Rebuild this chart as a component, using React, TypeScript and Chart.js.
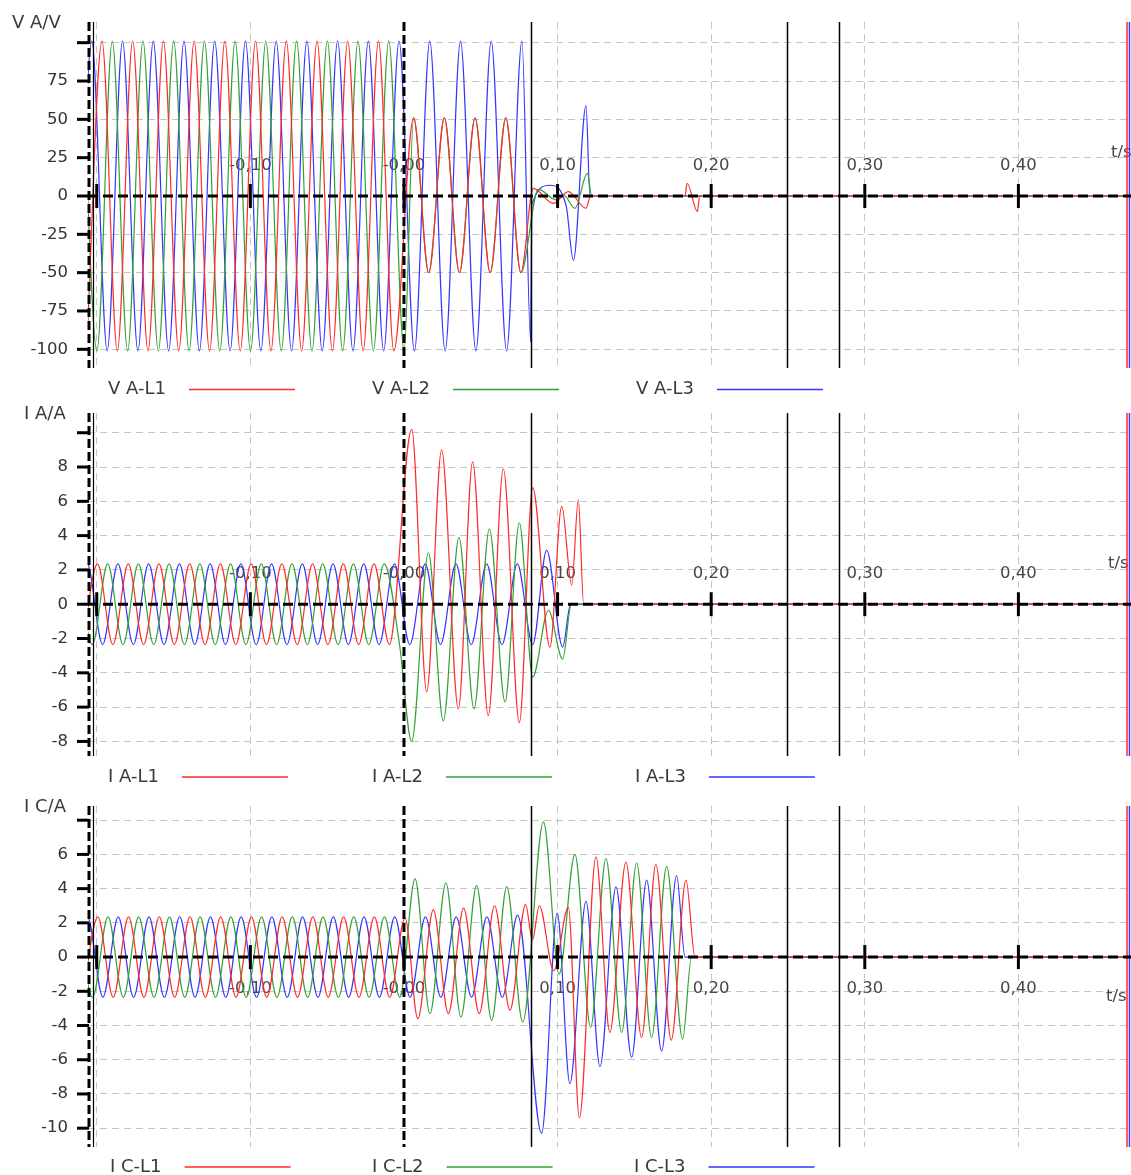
import React, { useEffect, useRef } from 'react';
import { Chart, registerables } from 'chart.js';

Chart.register(...registerables);

type Pt = [number, number];

const FONT = '"DejaVu Sans", "Liberation Sans", Arial, sans-serif';

// time axis in ms
const X_MIN = -205.7;
const X_MAX = 473.3;
const X_TICKS = [-200, -100, 0, 100, 200, 300, 400];
const X_TICK_LABELS = ['', '-0,10', '-0,00', '0,10', '0,20', '0,30', '0,40'];
const CURSOR_LINES = [82.7, 249.3, 283.2];
const LEFT_MARK = -202.5;
const END_MARKS = [470.7, 472.3];
const END_COLORS = ['#ff2a2a', '#3a3aff'];
const COLORS = ['#ff2a2a', '#33a033', '#3535ff'];

// ---------- V A ----------
const VA_TICKS = [-100, -75, -50, -25, 0, 25, 50, 75, 100];
const VA_TICK_LABELS = ['-100', '-75', '-50', '-25', '0', '25', '50', '75', ''];
const VA_NAMES = ['V A-L1', 'V A-L2', 'V A-L3'];
const VA_L1: Pt[] = [
  [-206.6, -101], [-196.6, 101], [-186.6, -101], [-176.6, 101], [-166.6, -101], [-156.6, 101],
  [-146.6, -101], [-136.6, 101], [-126.6, -101], [-116.6, 101], [-106.6, -101], [-96.6, 101],
  [-86.6, -101], [-76.6, 101], [-66.6, -101], [-56.6, 101], [-46.6, -101], [-36.6, 101],
  [-26.6, -101], [-16.6, 101], [-6.6, -101], [6.3, 51], [16.1, -50], [26.3, 51], [36.1, -50],
  [46.3, 51], [56.1, -50], [66.3, 51], [76.1, -50], [84.2, 5], [97.2, -4.8], [107, 2.8],
  [118.5, -8], [121.5, 0], [183, 0], [184.3, 8.3], [191, -10.2], [192.5, 0], [473.3, 0],
];
const VA_L2: Pt[] = [
  [-209.9, 101], [-199.9, -101], [-189.9, 101], [-179.9, -101], [-169.9, 101], [-159.9, -101],
  [-149.9, 101], [-139.9, -101], [-129.9, 101], [-119.9, -101], [-109.9, 101], [-99.9, -101],
  [-89.9, 101], [-79.9, -101], [-69.9, 101], [-59.9, -101], [-49.9, 101], [-39.9, -101],
  [-29.9, 101], [-19.9, -101], [-9.9, 101], [0.1, -101], [6.3, 51], [16.1, -50], [26.3, 51],
  [36.1, -50], [46.3, 51], [56.1, -50], [66.3, 51], [76.1, -50], [87.5, 4.3], [99.3, -2.6],
  [104, 0.5], [111.3, -8], [119.4, 14.8], [122.2, 0], [473.3, 0],
];
const VA_L3: Pt[] = [
  [-213.2, -101], [-203.2, 101], [-193.2, -101], [-183.2, 101], [-173.2, -101], [-163.2, 101],
  [-153.2, -101], [-143.2, 101], [-133.2, -101], [-123.2, 101], [-113.2, -101], [-103.2, 101],
  [-93.2, -101], [-83.2, 101], [-73.2, -101], [-63.2, 101], [-53.2, -101], [-43.2, 101],
  [-33.2, -101], [-23.2, 101], [-13.2, -101], [-3.2, 101], [6.8, -101], [16.8, 101],
  [26.8, -101], [36.8, 101], [46.8, -101], [56.8, 101], [66.8, -101], [76.8, 101],
  [82.5, -95], [83.2, -6], [95.1, 7], [105.5, -6], [110.3, -42], [118.5, 59], [121.1, 0],
  [473.3, 0],
];

// ---------- I A ----------
const IA_TICKS = [-8, -6, -4, -2, 0, 2, 4, 6, 8, 10];
const IA_TICK_LABELS = ['-8', '-6', '-4', '-2', '0', '2', '4', '6', '8', ''];
const IA_NAMES = ['I A-L1', 'I A-L2', 'I A-L3'];
const IA_L1: Pt[] = [
  [-209.5, -2.35], [-199.5, 2.35], [-189.5, -2.35], [-179.5, 2.35], [-169.5, -2.35],
  [-159.5, 2.35], [-149.5, -2.35], [-139.5, 2.35], [-129.5, -2.35], [-119.5, 2.35],
  [-109.5, -2.35], [-99.5, 2.35], [-89.5, -2.35], [-79.5, 2.35], [-69.5, -2.35],
  [-59.5, 2.35], [-49.5, -2.35], [-39.5, 2.35], [-29.5, -2.35], [-19.5, 2.35],
  [-9.5, -2.35], [5.0, 10.2], [14.8, -5.1], [24.5, 9.0], [35.4, -6.1], [44.7, 8.3],
  [54.9, -6.5], [64.7, 7.9], [75.1, -6.9], [83.8, 6.8], [95.0, -2.5], [102.7, 5.7],
  [109.2, 1.1], [113.5, 6.1], [117.0, 0], [473.3, 0],
];
const IA_L2: Pt[] = [
  [-212.9, 2.35], [-202.9, -2.35], [-192.9, 2.35], [-182.9, -2.35], [-172.9, 2.35],
  [-162.9, -2.35], [-152.9, 2.35], [-142.9, -2.35], [-132.9, 2.35], [-122.9, -2.35],
  [-112.9, 2.35], [-102.9, -2.35], [-92.9, 2.35], [-82.9, -2.35], [-72.9, 2.35],
  [-62.9, -2.35], [-52.9, 2.35], [-42.9, -2.35], [-32.9, 2.35], [-22.9, -2.35],
  [-12.9, 2.35], [-2.9, -2.35], [5.0, -8.0], [15.9, 3.0], [25.6, -6.8], [35.8, 3.9],
  [45.6, -6.1], [55.6, 4.4], [65.8, -5.7], [75.1, 4.75], [83.8, -4.25], [94.0, -0.35],
  [103.3, -3.2], [109.0, 0], [473.3, 0],
];
const IA_L3: Pt[] = [
  [-216.2, -2.35], [-206.2, 2.35], [-196.2, -2.35], [-186.2, 2.35], [-176.2, -2.35],
  [-166.2, 2.35], [-156.2, -2.35], [-146.2, 2.35], [-136.2, -2.35], [-126.2, 2.35],
  [-116.2, -2.35], [-106.2, 2.35], [-96.2, -2.35], [-86.2, 2.35], [-76.2, -2.35],
  [-66.2, 2.35], [-56.2, -2.35], [-46.2, 2.35], [-36.2, -2.35], [-26.2, 2.35],
  [-16.2, -2.35], [-6.2, 2.35], [3.8, -2.35], [13.8, 2.35], [23.8, -2.35], [33.8, 2.35],
  [43.8, -2.35], [53.8, 2.35], [63.8, -2.35], [73.8, 2.35], [83.8, -2.35], [92.9, 3.15],
  [103.3, -2.5], [108.5, 0], [473.3, 0],
];

// ---------- I C ----------
const IC_TICKS = [-10, -8, -6, -4, -2, 0, 2, 4, 6, 8];
const IC_TICK_LABELS = ['-10', '-8', '-6', '-4', '-2', '0', '2', '4', '6', ''];
const IC_NAMES = ['I C-L1', 'I C-L2', 'I C-L3'];
const IC_L1: Pt[] = [
  [-209.3, -2.35], [-199.3, 2.35], [-189.3, -2.35], [-179.3, 2.35], [-169.3, -2.35],
  [-159.3, 2.35], [-149.3, -2.35], [-139.3, 2.35], [-129.3, -2.35], [-119.3, 2.35],
  [-109.3, -2.35], [-99.3, 2.35], [-89.3, -2.35], [-79.3, 2.35], [-69.3, -2.35],
  [-59.3, 2.35], [-49.3, -2.35], [-39.3, 2.35], [-29.3, -2.35], [-19.3, 2.35],
  [-9.3, -2.35], [0.7, 2.3], [9.0, -3.6], [19.1, 2.76], [28.9, -3.3], [38.8, 2.86],
  [49.0, -3.3], [59.0, 3.0], [69.0, -3.1], [79.2, 3.06], [83.6, 1.0], [88.1, 3.0],
  [97.5, -0.8], [107.0, 2.9], [114.2, -9.4], [125.0, 5.86], [134.0, -4.4], [144.5, 5.55],
  [154.7, -4.7], [164.0, 5.4], [174.0, -4.85], [183.6, 4.5], [189.5, 0], [473.3, 0],
];
const IC_L2: Pt[] = [
  [-212.7, 2.35], [-202.7, -2.35], [-192.7, 2.35], [-182.7, -2.35], [-172.7, 2.35],
  [-162.7, -2.35], [-152.7, 2.35], [-142.7, -2.35], [-132.7, 2.35], [-122.7, -2.35],
  [-112.7, 2.35], [-102.7, -2.35], [-92.7, 2.35], [-82.7, -2.35], [-72.7, 2.35],
  [-62.7, -2.35], [-52.7, 2.35], [-42.7, -2.35], [-32.7, 2.35], [-22.7, -2.35],
  [-12.7, 2.35], [-2.7, -2.35], [7.2, 4.57], [16.9, -3.3], [27.3, 4.33], [37.1, -3.5],
  [47.3, 4.18], [57.1, -3.7], [66.9, 4.1], [77.3, -3.8], [90.8, 7.9], [101.0, -1.0],
  [111.3, 6.0], [121.5, -4.1], [131.5, 5.75], [141.7, -4.4], [151.5, 5.5], [161.2, -4.7],
  [171.0, 5.3], [181.4, -4.8], [187.2, 0], [473.3, 0],
];
const IC_L3: Pt[] = [
  [-216, -2.35], [-206, 2.35], [-196, -2.35], [-186, 2.35], [-176, -2.35], [-166, 2.35],
  [-156, -2.35], [-146, 2.35], [-136, -2.35], [-126, 2.35], [-116, -2.35], [-106, 2.35],
  [-96, -2.35], [-86, 2.35], [-76, -2.35], [-66, 2.35], [-56, -2.35], [-46, 2.35],
  [-36, -2.35], [-26, 2.35], [-16, -2.35], [-6, 2.35], [4, -2.35], [14, 2.35], [24, -2.35],
  [34, 2.35], [44, -2.35], [54, 2.35], [64, -2.35], [74, 2.45], [89.6, -10.3], [99.8, 2.57],
  [108.0, -7.4], [118.5, 3.25], [127.6, -6.4], [138.0, 4.1], [148.2, -5.86], [158.0, 4.5],
  [167.7, -5.5], [177.5, 4.76], [183.0, 0], [473.3, 0],
];

interface Panel {
  top: number;
  height: number;
  padTop: number;
  padBottom: number;
  yMin: number;
  yMax: number;
  yTicks: number[];
  yLabels: string[];
  title: string;
  titleX: number;
  titleY: number;
  names: string[];
  legendX: number[];
  legendY: number;
  series: Pt[][];
  labelOffset: number;
  tsX: number;
  tsOffset: number;
}

const PANELS: Panel[] = [
  {
    top: 0, height: 398, padTop: 22, padBottom: 30, yMin: -112.2, yMax: 113.5,
    yTicks: VA_TICKS, yLabels: VA_TICK_LABELS, title: 'V A/V', titleX: 12, titleY: 23,
    names: VA_NAMES, legendX: [108, 372, 636], legendY: 389.5, series: [VA_L1, VA_L2, VA_L3],
    labelOffset: -30.5, tsX: 1111, tsOffset: -43,
  },
  {
    top: 398, height: 392, padTop: 15, padBottom: 34, yMin: -8.85, yMax: 11.15,
    yTicks: IA_TICKS, yLabels: IA_TICK_LABELS, title: 'I A/A', titleX: 24, titleY: 16,
    names: IA_NAMES, legendX: [108, 372, 635], legendY: 379, series: [IA_L1, IA_L2, IA_L3],
    labelOffset: -30.5, tsX: 1108, tsOffset: -41,
  },
  {
    top: 790, height: 385, padTop: 16, padBottom: 28, yMin: -11.1, yMax: 8.83,
    yTicks: IC_TICKS, yLabels: IC_TICK_LABELS, title: 'I C/A', titleX: 24, titleY: 17,
    names: IC_NAMES, legendX: [110, 372, 634], legendY: 377, series: [IC_L1, IC_L2, IC_L3],
    labelOffset: 31.3, tsX: 1106, tsOffset: 40,
  },
];

function line(ctx: CanvasRenderingContext2D, x1: number, y1: number, x2: number, y2: number) {
  ctx.beginPath();
  ctx.moveTo(x1, y1);
  ctx.lineTo(x2, y2);
  ctx.stroke();
}

function makePlugin(p: Panel, idx: number) {
  return {
    id: 'overlay' + idx,
    beforeDatasetsDraw(chart: any) {
      const { ctx, scales, chartArea } = chart;
      const xs = scales.x;
      const ys = scales.y;
      const y0 = ys.getPixelForValue(0);
      ctx.save();
      ctx.font = `16.5px ${FONT}`;
      ctx.fillStyle = '#474747';
      ctx.textAlign = 'center';
      ctx.textBaseline = 'middle';
      X_TICKS.forEach((t, i) => {
        const lbl = X_TICK_LABELS[i];
        if (lbl) ctx.fillText(lbl, xs.getPixelForValue(t), y0 + p.labelOffset);
      });
      ctx.textAlign = 'left';
      ctx.fillText('t/s', p.tsX, y0 + p.tsOffset);
      // y tick labels
      ctx.fillStyle = '#333';
      ctx.textAlign = 'right';
      p.yTicks.forEach((v, i) => {
        const lbl = p.yLabels[i];
        if (lbl) ctx.fillText(lbl, chartArea.left - 20, ys.getPixelForValue(v));
      });
      ctx.restore();
    },
    afterDatasetsDraw(chart: any) {
      const { ctx, chartArea, scales } = chart;
      const xs = scales.x;
      const ys = scales.y;
      const y0 = ys.getPixelForValue(0);
      const { left, right, top, bottom } = chartArea;
      ctx.save();
      // solid cursors
      ctx.strokeStyle = '#000';
      ctx.lineWidth = 1.5;
      CURSOR_LINES.forEach((t) => {
        const x = Math.round(xs.getPixelForValue(t)) + 0.5;
        line(ctx, x, top, x, bottom);
      });
      ctx.lineWidth = 1.2;
      const xl = Math.round(xs.getPixelForValue(LEFT_MARK)) + 0.5;
      line(ctx, xl, top, xl, bottom);
      END_MARKS.forEach((t, i) => {
        ctx.strokeStyle = END_COLORS[i];
        ctx.lineWidth = 1.5;
        const x = xs.getPixelForValue(t);
        line(ctx, x, top, x, bottom);
      });
      // dashed black lines
      ctx.strokeStyle = '#000';
      ctx.lineWidth = 3;
      ctx.setLineDash([10, 5]);
      line(ctx, left, y0, right, y0);
      ctx.setLineDash([9, 4]);
      const xz = xs.getPixelForValue(0);
      line(ctx, xz, top, xz, bottom);
      line(ctx, left + 1, top, left + 1, bottom);
      ctx.setLineDash([]);
      // y tick marks
      p.yTicks.forEach((v) => {
        const y = ys.getPixelForValue(v);
        line(ctx, left - 11, y, left + 1, y);
      });
      // x tick marks on the zero line
      X_TICKS.forEach((t) => {
        const x = xs.getPixelForValue(t);
        line(ctx, x, y0 - 12, x, y0 + 12);
      });
      ctx.restore();
    },
    afterDraw(chart: any) {
      const { ctx } = chart;
      ctx.save();
      ctx.font = `18px ${FONT}`;
      ctx.fillStyle = '#3a3a3a';
      ctx.textAlign = 'left';
      ctx.textBaseline = 'middle';
      ctx.fillText(p.title, p.titleX, p.titleY);
      p.names.forEach((name, i) => {
        const x = p.legendX[i];
        ctx.fillStyle = '#3a3a3a';
        ctx.fillText(name, x, p.legendY);
        const w = ctx.measureText(name).width;
        ctx.strokeStyle = COLORS[i];
        ctx.lineWidth = 1.5;
        line(ctx, x + w + 23, p.legendY, x + w + 129, p.legendY);
      });
      ctx.restore();
    },
  };
}

function makeChart(canvas: HTMLCanvasElement, p: Panel, idx: number) {
  const gridColor = (c: any) => (c.tick && c.tick.value === 0 ? 'rgba(0,0,0,0)' : '#c4c4c4');
  return new Chart(canvas, {
    type: 'line',
    data: {
      datasets: p.series.map((s, i) => ({
        label: p.names[i],
        data: s.map(([x, y]) => ({ x, y })),
        borderColor: COLORS[i],
        borderWidth: 1.2,
        pointRadius: 0,
        fill: false,
        cubicInterpolationMode: 'monotone' as const,
      })),
    },
    options: {
      animation: false,
      responsive: false,
      maintainAspectRatio: false,
      events: [],
      layout: { padding: { top: p.padTop, bottom: p.padBottom, left: 0, right: 0 } },
      plugins: { legend: { display: false }, tooltip: { enabled: false } },
      scales: {
        x: {
          type: 'linear',
          min: X_MIN,
          max: X_MAX,
          afterBuildTicks: (s: any) => {
            s.ticks = X_TICKS.map((v) => ({ value: v }));
          },
          afterFit: (s: any) => {
            s.height = 0;
          },
          ticks: { display: false },
          grid: { color: gridColor, lineWidth: 1, drawTicks: false },
          border: { display: false, dash: [7, 5] },
        },
        y: {
          type: 'linear',
          min: p.yMin,
          max: p.yMax,
          afterBuildTicks: (s: any) => {
            s.ticks = p.yTicks.map((v) => ({ value: v }));
          },
          afterFit: (s: any) => {
            s.width = 88;
          },
          ticks: { display: false },
          grid: { color: gridColor, lineWidth: 1, drawTicks: false },
          border: { display: false, dash: [7, 5] },
        },
      },
    } as any,
    plugins: [makePlugin(p, idx)],
  });
}

export default function App() {
  const refs = useRef<(HTMLCanvasElement | null)[]>([]);
  useEffect(() => {
    const charts = PANELS.map((p, i) => makeChart(refs.current[i] as HTMLCanvasElement, p, i));
    return () => charts.forEach((c) => c.destroy());
  }, []);
  return (
    <div
      style={{
        position: 'absolute',
        left: 0,
        top: 0,
        width: 1131,
        height: 1175,
        background: '#fff',
        overflow: 'hidden',
      }}
    >
      {PANELS.map((p, i) => (
        <canvas
          key={i}
          ref={(el) => {
            refs.current[i] = el;
          }}
          width={1131}
          height={p.height}
          style={{ position: 'absolute', left: 0, top: p.top, width: 1131, height: p.height }}
        />
      ))}
    </div>
  );
}
